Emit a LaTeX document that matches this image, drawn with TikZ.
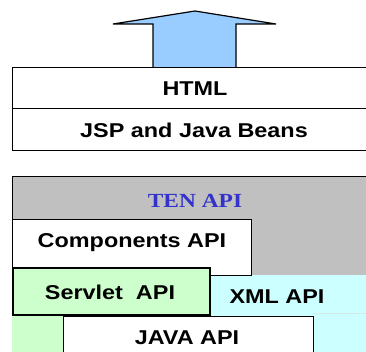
\documentclass[tikz,border=0pt]{standalone}
\usepackage{fontspec}
\setmainfont{Liberation Sans}
\newfontfamily\tenfont{Liberation Serif}
\usepackage{graphicx}
\definecolor{tengray}{HTML}{C0C0C0}
\definecolor{xmlcyan}{HTML}{CCFFFF}
\definecolor{servgreen}{HTML}{CCFFCC}
\definecolor{arrowblue}{HTML}{99CCFF}
\definecolor{tenblue}{HTML}{3333CC}
\definecolor{faintline}{HTML}{D8E8E8}
\newcommand{\wide}[1]{\scalebox{1.17}[1]{#1}}
\tikzset{
  lbl/.style={font=\fontsize{20}{20}\selectfont\bfseries, inner sep=0pt},
  layerbox/.style={draw=black, line width=1pt, fill=white, anchor=north west, inner sep=0pt},
}
\begin{document}
\begin{tikzpicture}[x=1pt,y=-1pt]
\useasboundingbox (0,0) rectangle (366,352);
\clip (0,0) rectangle (366,352);
% arrow
\draw[line width=1.2pt, fill=arrowblue, line join=miter]
  (153,67) -- (153,24) -- (113,24) -- (195,11) -- (276,24) -- (236,24) -- (236,67);
% top stack
\node[layerbox, minimum width=370, minimum height=41] (html) at (12,67) {};
\node[layerbox, minimum width=370, minimum height=42.5] (jsp) at (12,108) {};
% gray TEN area
\fill[tengray] (12,177) rectangle (382,276);
\draw[line width=1pt] (12,220) -- (12,177) -- (382,177);
% cyan XML area
\fill[xmlcyan] (209,275) rectangle (382,360);
\draw[faintline, line width=0.8pt] (313,313.5) -- (382,313.5);
% green below servlet
\fill[servgreen] (12,314) rectangle (63,360);
% boxes
\node[layerbox, minimum width=239, minimum height=56] (comp) at (12,219) {};
\node[layerbox, fill=servgreen, line width=1.6pt, minimum width=197, minimum height=47] (serv) at (12,267) {};
\node[layerbox, minimum width=250, minimum height=50] (java) at (63,316) {};
% labels
\node[lbl] (thtml) at (195,89) {\wide{HTML}};
\node[lbl] (tjsp) at (194,130) {\wide{JSP and Java Beans}};
\node[lbl, font=\fontsize{20}{20}\selectfont\tenfont\bfseries, text=tenblue] (tten) at (195,201) {\wide{TEN API}};
\node[lbl] (tcomp) at (132,243) {\wide{Components API}};
\node[lbl] (tserv) at (110,292) {\wide{Servlet\ \ API}};
\node[lbl] (txml) at (277,297) {\wide{XML API}};
\node[lbl] (tjava) at (187,338) {\wide{JAVA API}};
\end{tikzpicture}
\end{document}
